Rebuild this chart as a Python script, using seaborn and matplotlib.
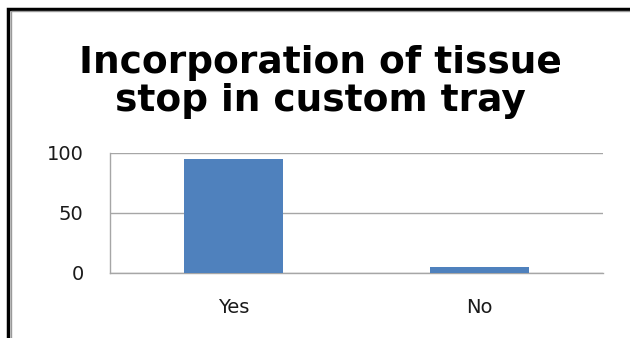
import matplotlib
matplotlib.use("Agg")
import matplotlib.pyplot as plt
import seaborn as sns
import pandas as pd
from matplotlib.patches import Rectangle

categories = ["Yes", "No"]
values = [95, 5]
yticks = [0, 50, 100]
title_lines = ["Incorporation of tissue", "stop in custom tray"]

sns.set_style("white")
plt.rcParams['font.family'] = ['DejaVu Sans']

df = pd.DataFrame({"cat": categories, "val": values})

fig = plt.figure(figsize=(6.3, 3.38), dpi=100)
ax = fig.add_axes([110/630, 1-273/338, (603-110)/630, (273-153)/338])

sns.barplot(data=df, x="cat", y="val", ax=ax, color="#4f81bd", width=0.4,
            saturation=1, edgecolor="none", zorder=3)

ax.set_ylim(0, 100)
ax.set_xlim(-0.5, 1.5)
ax.set_yticks(yticks)
ax.set_yticklabels([str(t) for t in yticks], fontsize=14, color="#1a1a1a")
ax.yaxis.grid(True, color="#a6a6a6", lw=1, zorder=0)
ax.set_axisbelow(True)
ax.set_xlabel("")
ax.set_ylabel("")

ax.set_xticks([0, 1])
ax.set_xticklabels(categories, fontsize=14, color="#1a1a1a")
ax.tick_params(axis="x", length=0, pad=18)
ax.set_xticks([-0.5, 0.5, 1.5], minor=True)
ax.tick_params(axis="x", which="minor", length=5, color="#a6a6a6", width=1, direction="out")
ax.tick_params(axis="y", length=6, color="#a6a6a6", width=1, direction="out", pad=13)

for s in ["top", "right"]:
    ax.spines[s].set_visible(False)
for s in ["left", "bottom"]:
    ax.spines[s].set_color("#a6a6a6")
    ax.spines[s].set_linewidth(1)

fig.text(320/630, 1-73/338, title_lines[0], ha="center", va="baseline", fontsize=27,
         fontweight="bold", color="#000000")
fig.text(320/630, 1-111/338, title_lines[1], ha="center", va="baseline", fontsize=27,
         fontweight="bold", color="#000000")

# outer frame (double line)
fig.patches.append(Rectangle((8/630, -0.1), 1.2, 1.1 - 9/338, transform=fig.transFigure,
                             fill=False, edgecolor="black", lw=2.5, zorder=10))
fig.patches.append(Rectangle((10.5/630, -0.1), 1.2, 1.1 - 11.5/338, transform=fig.transFigure,
                             fill=False, edgecolor="#9a9a9a", lw=1, zorder=10))

fig.savefig("out.png", dpi=100)
